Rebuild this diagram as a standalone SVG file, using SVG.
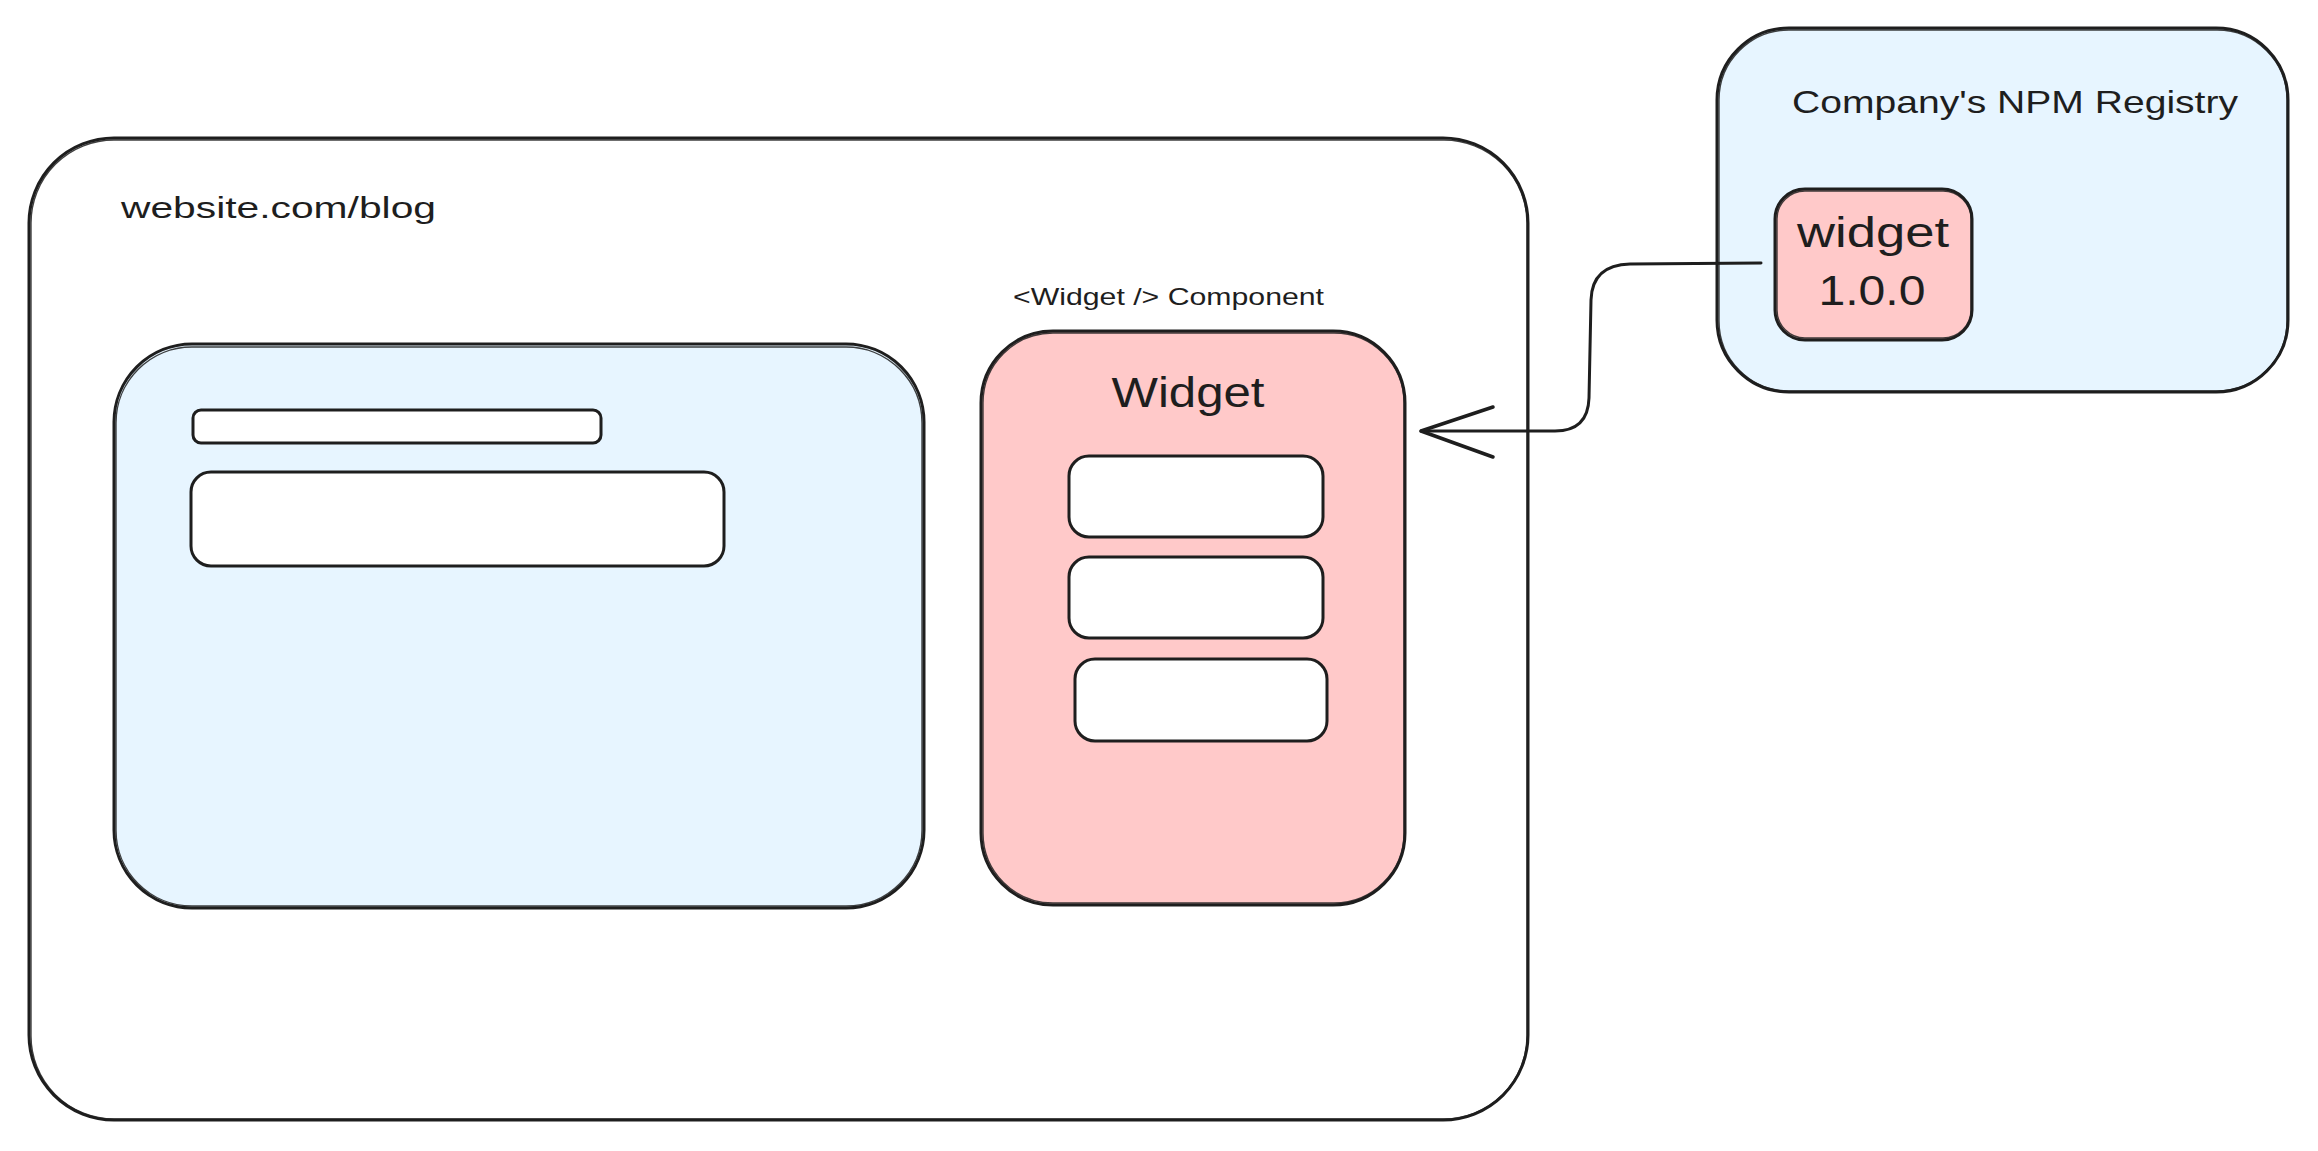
<svg xmlns="http://www.w3.org/2000/svg" width="2318" height="1151" viewBox="0 0 2318 1151">
<style>
.s{fill:none;stroke:#1e1e1e;stroke-width:3;stroke-linecap:round;stroke-linejoin:round}
.s2{fill:none;stroke:#1e1e1e;stroke-width:1.4;stroke-linecap:round;opacity:.85}
.blue{fill:#e7f5ff}
.pink{fill:#ffc9c9}
.white{fill:#ffffff}
.t{font-family:"Liberation Sans","DejaVu Sans",sans-serif;fill:#1e1e1e}
</style>
<defs>
<marker id="arr" markerUnits="userSpaceOnUse" orient="auto" refX="0" refY="0" markerWidth="100" markerHeight="100" viewBox="-90 -50 100 100" overflow="visible">
<path d="M-72,-26 L0,0 L-72,24" fill="none" stroke="#1e1e1e" stroke-width="3.5" stroke-linecap="round" stroke-linejoin="round"/>
</marker>
</defs>
<rect width="2318" height="1151" fill="#ffffff"/>

<g id="website">
<rect x="29" y="138" width="1499" height="982" rx="85" ry="85" class="white"/>
<rect x="29" y="138" width="1499" height="982" rx="85" ry="85" class="s"/>
<rect x="31" y="140" width="1496" height="979" rx="83" ry="83" class="s2"/>
<text class="t" x="121" y="218" font-size="30" textLength="315" lengthAdjust="spacingAndGlyphs">website.com/blog</text>
</g>

<g id="content">
<rect x="114" y="344" width="810" height="564" rx="78" ry="78" class="blue"/>
<rect x="114" y="344" width="810" height="564" rx="78" ry="78" class="s"/>
<rect x="116" y="347" width="806" height="559" rx="76" ry="76" class="s2"/>
<rect x="193" y="410" width="408" height="33" rx="8" ry="8" class="white"/>
<rect x="193" y="410" width="408" height="33" rx="8" ry="8" class="s"/>
<rect x="191" y="472" width="533" height="94" rx="20" ry="20" class="white"/>
<rect x="191" y="472" width="533" height="94" rx="20" ry="20" class="s"/>
</g>

<g id="widget-component">
<text class="t" x="1013" y="305" font-size="24" textLength="311" lengthAdjust="spacingAndGlyphs">&lt;Widget /&gt; Component</text>
<rect x="981" y="331" width="424" height="574" rx="72" ry="72" class="pink"/>
<rect x="981" y="331" width="424" height="574" rx="72" ry="72" class="s"/>
<rect x="983" y="333" width="421" height="570" rx="70" ry="70" class="s2"/>
<text class="t" x="1188" y="407" font-size="42" text-anchor="middle" textLength="153" lengthAdjust="spacingAndGlyphs">Widget</text>
<rect x="1069" y="456" width="254" height="81" rx="20" ry="20" class="white"/>
<rect x="1069" y="456" width="254" height="81" rx="20" ry="20" class="s"/>
<rect x="1069" y="557" width="254" height="81" rx="20" ry="20" class="white"/>
<rect x="1069" y="557" width="254" height="81" rx="20" ry="20" class="s"/>
<rect x="1075" y="659" width="252" height="82" rx="20" ry="20" class="white"/>
<rect x="1075" y="659" width="252" height="82" rx="20" ry="20" class="s"/>
</g>

<g id="npm-registry">
<rect x="1717" y="28" width="571" height="364" rx="72" ry="72" class="blue"/>
<rect x="1717" y="28" width="571" height="364" rx="72" ry="72" class="s"/>
<rect x="1719" y="30" width="568" height="361" rx="70" ry="70" class="s2"/>
<text class="t" x="1792" y="113" font-size="32" textLength="446" lengthAdjust="spacingAndGlyphs">Company's NPM Registry</text>
</g>

<g id="widget-package">
<rect x="1775" y="189" width="197" height="151" rx="30" ry="30" class="pink"/>
<rect x="1775" y="189" width="197" height="151" rx="30" ry="30" class="s"/>
<rect x="1777" y="191" width="194" height="147" rx="28" ry="28" class="s2"/>
<text class="t" x="1873" y="247" font-size="42" text-anchor="middle" textLength="152" lengthAdjust="spacingAndGlyphs">widget</text>
<text class="t" x="1872" y="305" font-size="42" text-anchor="middle" textLength="107" lengthAdjust="spacingAndGlyphs">1.0.0</text>
</g>

<g id="connectors">
<path d="M1761,263 L1630,264 Q1592,265 1591,300 L1589,398 Q1588,431 1555,431 L1421,431" class="s" marker-end="url(#arr)"/>
</g>
</svg>
